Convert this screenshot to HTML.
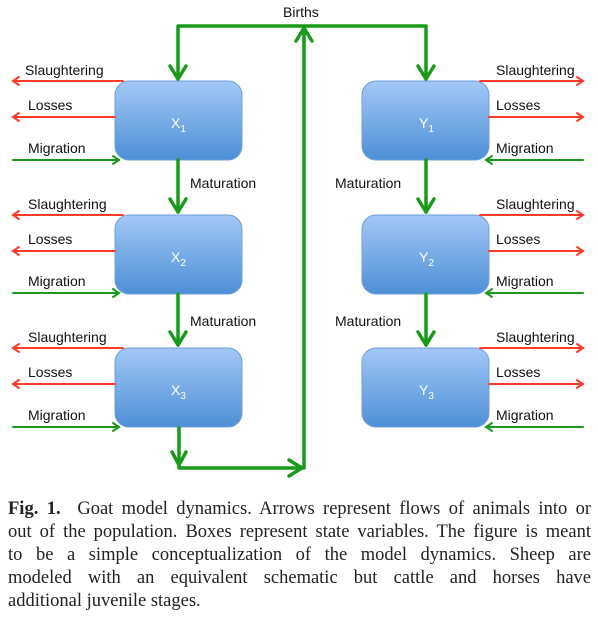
<!DOCTYPE html>
<html><head><meta charset="utf-8"><style>
body{margin:0;width:598px;height:618px;background:#fff;overflow:hidden;position:relative;font-family:"Liberation Sans",sans-serif}
svg{position:absolute;left:0;top:0}
.cap{position:absolute;left:8px;width:583px;font-family:"Liberation Serif",serif;font-size:18.5px;color:#222;line-height:23px;top:498px}
.cap div{text-align:justify;text-align-last:justify;white-space:nowrap;height:23px}
.cap div.last{text-align-last:left}
</style></head><body>
<svg width="598" height="490" viewBox="0 0 598 490">
<defs>
<linearGradient id="g" x1="0" y1="0" x2="0" y2="1"><stop offset="0" stop-color="#a3c8f7"/><stop offset="1" stop-color="#4d8fd6"/></linearGradient>
</defs>
<g font-size="14" fill="#111" font-family="Liberation Sans, sans-serif">
<g stroke="#6f9fd8" stroke-width="1">
<rect x="115" y="81" width="127" height="79" rx="14" fill="url(#g)"/>
<rect x="115" y="215" width="127" height="79" rx="14" fill="url(#g)"/>
<rect x="115" y="348" width="127" height="79" rx="14" fill="url(#g)"/>
<rect x="362" y="81" width="127" height="79" rx="14" fill="url(#g)"/>
<rect x="362" y="215" width="127" height="79" rx="14" fill="url(#g)"/>
<rect x="362" y="348" width="127" height="79" rx="14" fill="url(#g)"/>
</g>
<g fill="#fff" font-size="14">
<text x="171" y="128">X<tspan font-size="10" dy="4">1</tspan></text>
<text x="171" y="262">X<tspan font-size="10" dy="4">2</tspan></text>
<text x="171" y="395">X<tspan font-size="10" dy="4">3</tspan></text>
<text x="419" y="128">Y<tspan font-size="10" dy="4">1</tspan></text>
<text x="419" y="262">Y<tspan font-size="10" dy="4">2</tspan></text>
<text x="419" y="395">Y<tspan font-size="10" dy="4">3</tspan></text>
</g>
<g stroke="#1a9a1a" stroke-width="3.5" fill="none" stroke-linecap="round" stroke-linejoin="round">
<polyline points="178,79 178,26 426,26 426,79"/>
<polyline points="170,66 178,79 186,66"/>
<polyline points="418,66 426,79 434,66"/>
<polyline points="304,468 304,28"/>
<polyline points="296,41 304,28 312,41"/>
<polyline points="179,428 179,468 302,468"/>
<polyline points="172,452 179,465 186,452"/>
<polyline points="289,460 302,468 289,476"/>
<line x1="178" y1="160" x2="178" y2="212"/><polyline points="170,199 178,212 186,199"/>
<line x1="178" y1="294" x2="178" y2="345"/><polyline points="170,332 178,345 186,332"/>
<line x1="426" y1="160" x2="426" y2="212"/><polyline points="418,199 426,212 434,199"/>
<line x1="426" y1="294" x2="426" y2="345"/><polyline points="418,332 426,345 434,332"/>
</g>
<g stroke-width="2" fill="none" stroke-linecap="round">
<g stroke="#ff3b2a">
<line x1="123" y1="81" x2="13" y2="81"/><polyline points="19,77 13,81 19,85"/>
<line x1="115" y1="117" x2="13" y2="117"/><polyline points="19,113 13,117 19,121"/>
<line x1="123" y1="215" x2="13" y2="215"/><polyline points="19,211 13,215 19,219"/>
<line x1="115" y1="251" x2="13" y2="251"/><polyline points="19,247 13,251 19,255"/>
<line x1="123" y1="348" x2="13" y2="348"/><polyline points="19,344 13,348 19,352"/>
<line x1="115" y1="384" x2="13" y2="384"/><polyline points="19,380 13,384 19,388"/>
<line x1="480" y1="81" x2="583" y2="81"/><polyline points="577,77 583,81 577,85"/>
<line x1="489" y1="117" x2="583" y2="117"/><polyline points="577,113 583,117 577,121"/>
<line x1="480" y1="215" x2="583" y2="215"/><polyline points="577,211 583,215 577,219"/>
<line x1="489" y1="251" x2="583" y2="251"/><polyline points="577,247 583,251 577,255"/>
<line x1="480" y1="348" x2="583" y2="348"/><polyline points="577,344 583,348 577,352"/>
<line x1="489" y1="384" x2="583" y2="384"/><polyline points="577,380 583,384 577,388"/>
</g>
<g stroke="#1a9a1a">
<line x1="13" y1="160" x2="119" y2="160"/><polyline points="113,156 119,160 113,164"/>
<line x1="13" y1="293" x2="119" y2="293"/><polyline points="113,289 119,293 113,297"/>
<line x1="13" y1="427" x2="119" y2="427"/><polyline points="113,423 119,427 113,431"/>
<line x1="583" y1="160" x2="486" y2="160"/><polyline points="492,156 486,160 492,164"/>
<line x1="583" y1="293" x2="486" y2="293"/><polyline points="492,289 486,293 492,297"/>
<line x1="583" y1="427" x2="486" y2="427"/><polyline points="492,423 486,427 492,431"/>
</g>
</g>
<text x="283" y="17">Births</text>
<text x="190" y="188">Maturation</text>
<text x="190" y="326">Maturation</text>
<text x="335" y="188">Maturation</text>
<text x="335" y="326">Maturation</text>
<text x="25" y="75">Slaughtering</text><text x="28" y="110">Losses</text><text x="28" y="153">Migration</text>
<text x="28" y="209">Slaughtering</text><text x="28" y="244">Losses</text><text x="28" y="286">Migration</text>
<text x="28" y="342">Slaughtering</text><text x="28" y="377">Losses</text><text x="28" y="420">Migration</text>
<text x="496" y="75">Slaughtering</text><text x="496" y="110">Losses</text><text x="496" y="153">Migration</text>
<text x="496" y="209">Slaughtering</text><text x="496" y="244">Losses</text><text x="496" y="286">Migration</text>
<text x="496" y="342">Slaughtering</text><text x="496" y="377">Losses</text><text x="496" y="420">Migration</text>
</g>
</svg>
<div class="cap">
<div><b>Fig. 1.</b>&nbsp; Goat model dynamics. Arrows represent flows of animals into or</div>
<div>out of the population. Boxes represent state variables. The figure is meant</div>
<div>to be a simple conceptualization of the model dynamics. Sheep are</div>
<div>modeled with an equivalent schematic but cattle and horses have</div>
<div class="last">additional juvenile stages.</div>
</div>
</body></html>
